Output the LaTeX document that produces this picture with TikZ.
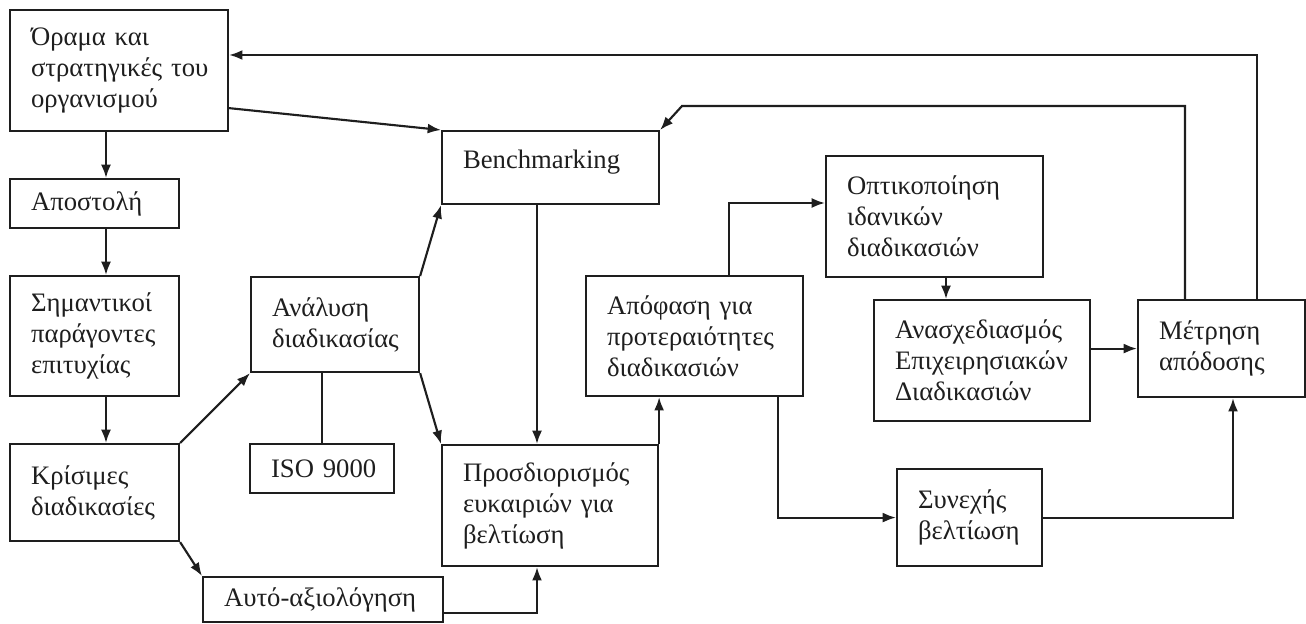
\documentclass[tikz,border=0pt]{standalone}
\usepackage{fontspec}
\setmainfont{Liberation Serif}
\usetikzlibrary{arrows.meta,calc}
\definecolor{ink}{HTML}{1E1E1E}
\begin{document}
\begin{tikzpicture}[x=0.75pt,y=-0.75pt,
  box/.style={draw=ink, line width=1.6pt, anchor=north west, align=left,
    inner xsep=15.75pt, inner ysep=0pt, text=ink,
    font=\fontsize{20}{23.25}\selectfont},
  link/.style={draw=ink, line width=1.6pt},
  arr/.style={link, -{Latex[length=10pt,width=7.5pt]}}]
\useasboundingbox (0,0) rectangle (1306,624);

% guide coordinates for connector routes
\coordinate (x106) at (106,0);
\coordinate (x537) at (537,0);
\coordinate (x682) at (682,0);
\coordinate (x729) at (729,0);
\coordinate (x778) at (778,0);
\coordinate (x946) at (946,0);
\coordinate (x1185) at (1185,0);
\coordinate (x1233) at (1233,0);
\coordinate (x1257) at (1257,0);
\coordinate (y55) at (0,55);
\coordinate (y106) at (0,106);
\coordinate (y203) at (0,203);
\coordinate (y613) at (0,613);

% boxes
\node[box, text width=132pt, minimum height=90.75pt] (orama) at (9,9)
  {Όραμα~και\\στρατηγικές~του\\οργανισμού};
\node[box, text width=95.25pt, minimum height=36.75pt] (apost) at (9,178)
  {Αποστολή};
\node[box, text width=95.25pt, minimum height=90pt] (simant) at (9,275)
  {Σημαντικοί\\παράγοντες\\επιτυχίας};
\node[box, text width=95.25pt, minimum height=72.75pt] (krisim) at (9,443)
  {Κρίσιμες\\διαδικασίες};
\node[box, text width=94.5pt, minimum height=71.25pt] (analysi) at (250,276)
  {Ανάλυση\\διαδικασίας};
\node[box, text width=76.5pt, minimum height=36.75pt] (iso) at (249,443)
  {ISO~9000};
\node[box, text width=148.5pt, minimum height=33.75pt] (auto) at (202,576)
  {Αυτό-αξιολόγηση};
\node[box, text width=131.25pt, minimum height=54.75pt, text depth=12.5pt] (bench) at (441,130)
  {Benchmarking};
\node[box, text width=130.5pt, minimum height=90.75pt] (prosd) at (441,444)
  {Προσδιορισμός\\ευκαιριών~για\\βελτίωση};
\node[box, text width=131.25pt, minimum height=90pt] (apof) at (585,275)
  {Απόφαση~για\\προτεραιότητες\\διαδικασιών};
\node[box, text width=131.25pt, minimum height=90.75pt] (optik) at (825,155)
  {Οπτικοποίηση\\ιδανικών\\διαδικασιών};
\node[box, text width=130.5pt, minimum height=90.75pt] (anasx) at (873,299)
  {Ανασχεδιασμός\\Επιχειρησιακών\\Διαδικασιών};
\node[box, text width=93.75pt, minimum height=72.75pt] (metr) at (1137,299)
  {Μέτρηση\\απόδοσης};
\node[box, text width=77.25pt, minimum height=72.75pt] (synex) at (896,468)
  {Συνεχής\\βελτίωση};

% connectors
\draw[arr] (orama.south -| x106) -- (apost.north -| x106);
\draw[arr] (apost.south -| x106) -- (simant.north -| x106);
\draw[arr] (simant.south -| x106) -- (krisim.north -| x106);
\draw[arr] (krisim.north east) -- (analysi.south west);
\draw[arr] (krisim.south east) -- (auto.north west);
\draw[link] (iso.north) -- (iso.north |- analysi.south);
\draw[arr] (analysi.north east) -- (bench.south west);
\draw[arr] (analysi.south east) -- (prosd.north west);
\draw[arr] ($(orama.south east)+(0,-24)$) -- (bench.north west);
\draw[arr] (bench.south -| x537) -- (prosd.north -| x537);
\draw[arr] (auto.east |- y613) -| (prosd.south -| x537);
\draw[arr] (prosd.north east) -- (prosd.north east |- apof.south);
\draw[arr] (apof.north -| x729) |- (optik.west |- y203);
\draw[arr] (optik.south -| x946) -- (anasx.north -| x946);
\draw[arr] (anasx.east |- metr.west) -- (metr.west);
\draw[arr] (apof.south -| x778) |- (synex.west);
\draw[arr] (synex.east) -| (metr.south -| x1233);
\draw[arr] (metr.north -| x1185) |- (x682 |- y106) -- (bench.north east);
\draw[arr] (metr.north -| x1257) |- (orama.east |- y55);
\end{tikzpicture}
\end{document}
